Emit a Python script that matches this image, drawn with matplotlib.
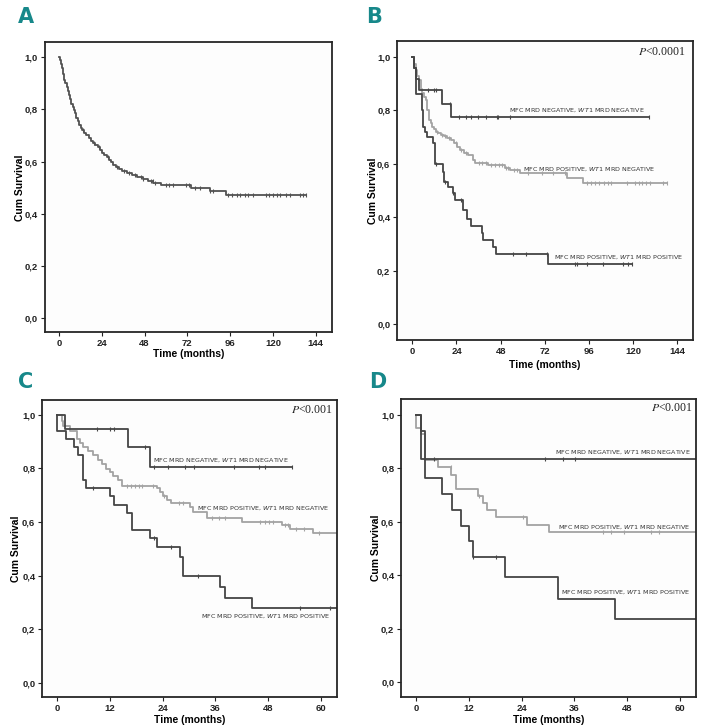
import numpy as np
import matplotlib
matplotlib.use("Agg")
import matplotlib.pyplot as plt

# Panel A - whole cohort
a_time = [0, 0.5, 1.0, 1.6, 2.2, 2.8, 3.6, 4.4, 5.0, 5.6, 6.2, 6.9, 7.6, 8.3, 9.0, 9.8,
          10.6, 11.4, 12.2, 13.2, 14.2, 15.4, 16.6, 17.8, 19.0, 20.4, 21.8, 23.0, 24.2,
          25.4, 26.8, 28.0, 29.2, 30.4, 31.8, 33.5, 35.5, 38.0, 41.0, 44.0, 47.0, 50.0,
          53.0, 57.0, 74.0, 84.5, 93.5]
a_surv = [1.0, 0.99, 0.975, 0.958, 0.935, 0.913, 0.9, 0.887, 0.872, 0.855, 0.838, 0.822,
          0.81, 0.798, 0.785, 0.768, 0.755, 0.74, 0.73, 0.72, 0.71, 0.7, 0.69, 0.68, 0.672,
          0.664, 0.656, 0.645, 0.632, 0.625, 0.618, 0.608, 0.598, 0.587, 0.578, 0.57, 0.563,
          0.555, 0.548, 0.54, 0.533, 0.525, 0.517, 0.511, 0.498, 0.486, 0.473]
a_end = 138.5
a_cens = [13.5, 19.5, 22.5, 27.5, 32.5, 36.5, 39.5, 42.5, 46.0, 47.0, 51.5, 52.5, 54.0,
          60.0, 62.0, 64.0, 71.0, 73.0, 76.5, 79.0, 85.0, 86.5, 95.0, 96.9, 99.7, 101.5,
          104.4, 106.2, 109.0, 116.1, 118.0, 120.2, 122.1, 124.0, 127.3, 129.6, 135.2,
          137.1, 138.5]

# Panel B
b_nn_time = [0, 1.0, 2.2, 3.5, 16.0, 21.0]
b_nn_surv = [1.0, 0.958, 0.917, 0.875, 0.826, 0.777]
b_nn_end = 128.6
b_nn_cens = [8.5, 11.8, 13.1, 20.5, 25.4, 29.0, 32.1, 35.7, 40.2, 46.0, 46.6, 52.9, 128.6]

b_pn_time = [0, 0.8, 1.8, 2.7, 3.6, 4.5, 5.4, 6.3, 7.3, 8.2, 9.1, 10.0, 10.9, 11.8, 12.7,
             14.0, 15.4, 17.0, 19.0, 21.0, 22.7, 24.1, 25.9, 28.1, 30.4, 33.2, 34.1, 41.3,
             50.4, 53.1, 58.5, 83.9, 92.9]
b_pn_surv = [1.0, 0.975, 0.951, 0.93, 0.914, 0.88, 0.864, 0.85, 0.839, 0.802, 0.764, 0.752,
             0.74, 0.73, 0.72, 0.715, 0.71, 0.703, 0.696, 0.69, 0.677, 0.664, 0.652, 0.64,
             0.633, 0.615, 0.602, 0.596, 0.584, 0.577, 0.565, 0.546, 0.53]
b_pn_end = 138.2
b_pn_cens = [13.5, 16.0, 18.0, 20.0, 23.5, 26.5, 29.0, 36.0, 38.0, 40.0, 43.0, 45.0, 47.0,
             48.6, 50.8, 52.0, 55.5, 57.0, 63.0, 70.3, 76.6, 83.0, 94.7, 97.0, 99.5, 101.5,
             104.0, 106.5, 108.0, 116.5, 121.0, 123.0, 125.0, 127.0, 129.0, 136.4, 138.2]

b_pp_time = [0, 0.8, 1.8, 5.0, 6.0, 7.0, 8.0, 11.0, 12.3, 16.5, 17.2, 19.6, 21.9, 23.2,
             27.7, 29.5, 31.7, 37.7, 38.6, 44.0, 45.5, 73.9]
b_pp_surv = [1.0, 0.96, 0.863, 0.80, 0.74, 0.72, 0.70, 0.677, 0.60, 0.571, 0.533, 0.515,
             0.49, 0.465, 0.428, 0.393, 0.368, 0.34, 0.315, 0.29, 0.263, 0.225]
b_pp_end = 119.2
b_pp_cens = [12.9, 17.8, 22.3, 26.3, 54.9, 61.8, 73.0, 88.4, 89.3, 94.8, 103.8, 114.7,
             117.4, 119.2]

# Panel C
c_nn_time = [0, 1.75, 16.2, 21.0]
c_nn_surv = [1.0, 0.947, 0.88, 0.805]
c_nn_end = 53.4
c_nn_cens = [9.0, 12.0, 13.0, 20.0, 22.0, 25.1, 29.1, 31.1, 40.3, 46.0, 47.2, 53.4]

c_pn_time = [0, 1.0, 1.4, 2.9, 4.4, 5.2, 5.9, 7.1, 8.2, 9.3, 10.1, 11.2, 12.0, 12.8, 13.9,
             14.7, 22.6, 23.4, 24.0, 24.9, 25.8, 30.2, 31.0, 34.0, 42.0, 51.1, 53.0, 58.2]
c_pn_surv = [1.0, 0.975, 0.957, 0.938, 0.909, 0.895, 0.88, 0.865, 0.85, 0.83, 0.815, 0.799,
             0.785, 0.77, 0.758, 0.735, 0.727, 0.712, 0.698, 0.683, 0.671, 0.656, 0.637,
             0.615, 0.60, 0.588, 0.575, 0.559]
c_pn_end = 64.0
c_pn_cens = [15.8, 16.9, 17.7, 18.5, 19.2, 21.9, 24.2, 27.6, 28.7, 35.2, 36.7, 38.2, 46.2,
             47.3, 48.3, 49.2, 51.9, 52.6, 54.3, 56.2, 59.5]

c_pp_time = [0, 0, 1.9, 3.8, 4.8, 5.8, 6.5, 12.0, 13.0, 15.8, 17.0, 21.1, 22.8, 28.0, 28.7,
             37.1, 38.2, 44.3]
c_pp_surv = [1.0, 0.94, 0.909, 0.88, 0.851, 0.758, 0.727, 0.696, 0.665, 0.634, 0.571, 0.54,
             0.507, 0.47, 0.40, 0.358, 0.317, 0.28]
c_pp_end = 64.0
c_pp_cens = [8.1, 22.0, 26.0, 32.1, 55.3, 62.1]

# Panel D
d_nn_time = [0, 1.0]
d_nn_surv = [1.0, 0.834]
d_nn_end = 64.0
d_nn_cens = [4.0, 29.3, 33.3, 36.2]

d_pn_time = [0, 0, 1.0, 2.0, 4.9, 7.9, 9.0, 14.1, 15.1, 16.1, 18.1, 25.2, 30.2]
d_pn_surv = [1.0, 0.952, 0.93, 0.832, 0.803, 0.776, 0.723, 0.697, 0.67, 0.645, 0.618, 0.589,
             0.56]
d_pn_end = 64.0
d_pn_cens = [7.8, 14.3, 24.2, 42.4, 44.3, 47.2, 53.4, 55.3]

d_pp_time = [0, 1.0, 2.0, 5.9, 8.2, 10.1, 12.0, 13.0, 20.2, 32.2, 45.3]
d_pp_surv = [1.0, 0.941, 0.763, 0.705, 0.645, 0.586, 0.529, 0.47, 0.392, 0.313, 0.235]
d_pp_end = 64.0
d_pp_cens = [13.0, 18.1]

label_nn = "MFC MRD NEGATIVE, $\\mathit{WT1}$ MRD NEGATIVE"
label_pn = "MFC MRD POSITIVE, $\\mathit{WT1}$ MRD NEGATIVE"
label_pp = "MFC MRD POSITIVE, $\\mathit{WT1}$ MRD POSITIVE"

dark = "#454545"
light = "#a3a3a3"
teal = "#17888a"
W, H = 707, 726


def plot_km(ax, time, surv, end, cens, color):
    x = list(time) + [end]
    y = list(surv) + [surv[-1]]
    ax.step(x, y, where="post", color=color, lw=1.3, clip_on=True)
    idx = np.searchsorted(time, cens, side="right") - 1
    cy = np.array(surv)[idx]
    ax.plot(cens, cy, ls="none", marker="|", ms=3.2, mew=0.8, color=color)


def setup_axes(box, xlim, ylim, xticks, xlab_y, ylab_x):
    left, top, right, bottom = box
    ax = fig.add_axes([left / W, 1 - bottom / H, (right - left) / W, (bottom - top) / H])
    ax.set_facecolor("#fdfdfd")
    ax.set_xlim(xlim)
    ax.set_ylim(ylim)
    ax.set_xticks(xticks)
    ax.set_yticks([0, 0.2, 0.4, 0.6, 0.8, 1.0])
    ax.set_yticklabels(["0,0", "0,2", "0,4", "0,6", "0,8", "1,0"])
    ax.tick_params(length=3, width=0.8, pad=2, labelsize=6.8, colors="#222222")
    for lab in ax.get_xticklabels() + ax.get_yticklabels():
        lab.set_fontweight("bold")
        lab.set_fontfamily("Liberation Sans")
    for sp in ax.spines.values():
        sp.set_linewidth(1.3)
        sp.set_color("#262626")
    ax.set_xlabel("Time (months)", fontsize=7.5, fontweight="bold", family="Liberation Sans")
    ax.set_ylabel("Cum Survival", fontsize=7.5, fontweight="bold", family="Liberation Sans")
    ax.xaxis.set_label_coords(0.5, xlab_y)
    ax.yaxis.set_label_coords(ylab_x, 0.5)
    return ax


def curve_label(ax, x, y, text, ha):
    ax.text(x, y, text, fontsize=4.6, color="#333333", ha=ha, va="baseline",
            family="DejaVu Sans")


def p_value(ax, x, y, text):
    ax.text(x, y, text, transform=ax.transAxes, fontsize=8.5, ha="right", va="baseline",
            family="Liberation Serif", math_fontfamily="stix", color="#222222")


fig = plt.figure(figsize=(W / 100, H / 100), dpi=100)

# A
ax = setup_axes((44.7, 42.3, 331.7, 332.3), (-8, 153), (-0.054, 1.057),
                [0, 24, 48, 72, 96, 120, 144], -0.059, -0.069)
plot_km(ax, a_time, a_surv, a_end, a_cens, "#525252")

# B
ax = setup_axes((397.3, 41, 693, 340), (-8.15, 152.5), (-0.059, 1.06),
                [0, 24, 48, 72, 96, 120, 144], -0.066, -0.066)
plot_km(ax, b_pn_time, b_pn_surv, b_pn_end, b_pn_cens, light)
plot_km(ax, b_nn_time, b_nn_surv, b_nn_end, b_nn_cens, dark)
plot_km(ax, b_pp_time, b_pp_surv, b_pp_end, b_pp_cens, dark)
curve_label(ax, 52.5, 0.796, label_nn, "left")
curve_label(ax, 60.3, 0.575, label_pn, "left")
curve_label(ax, 77.0, 0.244, label_pp, "left")
p_value(ax, 0.973, 0.953, "$P$<0.0001")

# C
ax = setup_axes((42.3, 399.7, 336.7, 697.3), (-3.4, 63.6), (-0.053, 1.056),
                [0, 12, 24, 36, 48, 60], -0.061, -0.071)
plot_km(ax, c_pn_time, c_pn_surv, c_pn_end, c_pn_cens, light)
plot_km(ax, c_nn_time, c_nn_surv, c_nn_end, c_nn_cens, dark)
plot_km(ax, c_pp_time, c_pp_surv, c_pp_end, c_pp_cens, dark)
curve_label(ax, 21.9, 0.824, label_nn, "left")
curve_label(ax, 31.8, 0.644, label_pn, "left")
curve_label(ax, 62.1, 0.243, label_pp, "right")
p_value(ax, 0.985, 0.955, "$P$<0.001")

# D
ax = setup_axes((401.3, 399, 695.7, 697.3), (-3.4, 63.6), (-0.056, 1.059),
                [0, 12, 24, 36, 48, 60], -0.061, -0.069)
plot_km(ax, d_pn_time, d_pn_surv, d_pn_end, d_pn_cens, light)
plot_km(ax, d_nn_time, d_nn_surv, d_nn_end, d_nn_cens, dark)
plot_km(ax, d_pp_time, d_pp_surv, d_pp_end, d_pp_cens, dark)
curve_label(ax, 62.5, 0.854, label_nn, "right")
curve_label(ax, 62.4, 0.574, label_pn, "right")
curve_label(ax, 62.4, 0.331, label_pp, "right")
p_value(ax, 0.988, 0.959, "$P$<0.001")

# Panel letters
for letter, x, y in [("A", 18, 23), ("B", 366.5, 23), ("C", 18, 388), ("D", 369, 388)]:
    fig.text(x / W, 1 - y / H, letter, fontsize=15, fontweight="bold", color=teal,
             family=["Liberation Sans Narrow", "DejaVu Sans"], ha="left", va="baseline")

fig.savefig("out.png", dpi=100)
plt.close()
